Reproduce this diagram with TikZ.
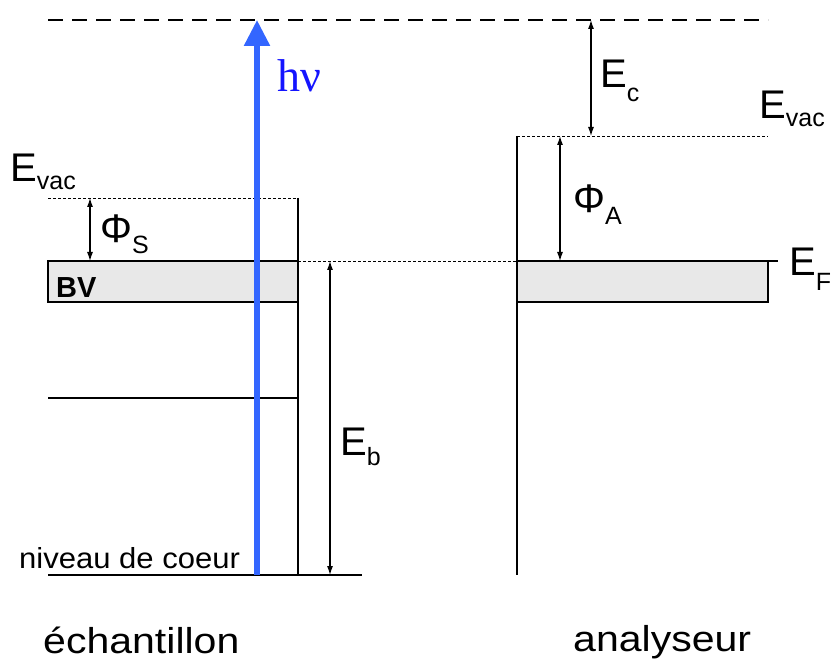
\documentclass[tikz,border=0pt]{standalone}
\usepackage{fontspec}
\setmainfont{Liberation Sans}
\newfontfamily\hvfont{Liberation Serif}
\newfontfamily\widefont[FakeStretch=1.14]{Liberation Sans}
\newfontfamily\corefont[FakeStretch=1.07]{Liberation Sans}
\usetikzlibrary{arrows.meta}
\definecolor{arrowblue}{RGB}{51,102,255}
\definecolor{textblue}{RGB}{20,20,255}
\definecolor{bandgray}{RGB}{232,232,232}
\newcommand\lbl[3][10]{#2\raisebox{-#1pt}{\fontsize{25}{28}\selectfont #3}}
\begin{document}
\begin{tikzpicture}[x=1pt,y=-1pt,
  big/.style={inner sep=0pt, anchor=base west, font=\fontsize{40}{44}\selectfont},
  smalltext/.style={inner sep=0pt, anchor=base west, text depth=0pt, font=\corefont\fontsize{29}{32}\selectfont},
  captiontext/.style={inner sep=0pt, anchor=base west, text depth=0pt, font=\widefont\fontsize{36}{40}\selectfont},
  heavy/.style={line width=2.5pt},
  light/.style={line width=1.1pt},
  dotline/.style={line width=0.8pt, dash pattern=on 3pt off 2pt},
  dim/.style={line width=1.1pt, {Latex[length=9pt,width=6pt]}-{Latex[length=9pt,width=6pt]}},
  band/.style={draw, fill=bandgray, line width=2.5pt, inner sep=0pt, outer sep=0pt, anchor=north west, minimum height=41pt},
]
\useasboundingbox (0,0) rectangle (833,660);
% coordinates
\coordinate (topL) at (48,20);
\coordinate (topR) at (768,20);
\coordinate (photonbot) at (257,575);
\coordinate (photontop) at (257,20);
\coordinate (svacL) at (48,198);
\coordinate (svacR) at (298,198);
\coordinate (sbot) at (298,575);
\coordinate (sfermi) at (298,261);
\coordinate (afermi) at (517,261);
\coordinate (afermiR) at (778,261);
\coordinate (avacL) at (517,136);
\coordinate (avacR) at (768,136);
\coordinate (abot) at (517,575);
\coordinate (lvlL) at (48,398);
\coordinate (lvlR) at (298,398);
\coordinate (coreL) at (48,575);
\coordinate (coreR) at (362,575);
\coordinate (phiSt) at (90,198);
\coordinate (phiSb) at (90,261);
\coordinate (Ebt) at (330,261);
\coordinate (Ebb) at (330,575);
\coordinate (phiAt) at (560,136);
\coordinate (phiAb) at (560,261);
\coordinate (Ect) at (591,20);
\coordinate (Ecb) at (591,136);

% top dashed level
\draw[heavy, dash pattern=on 15pt off 9pt] (topL) -- (topR);

% sample
\draw[dotline] (svacL) -- (svacR);
\node[band, minimum width=250pt] (bvS) at (48,261) {};
\node[inner sep=0pt, anchor=base west, font=\bfseries\fontsize{29}{31}\selectfont] (bvT) at (56,298) {BV};
\draw[heavy] (svacR) -- (sbot);
\draw[light] (lvlL) -- (lvlR);
\draw[light] (coreL) -- (coreR);
\draw[dotline] (sfermi) -- (afermi);

% analyser
\node[band, minimum width=251pt] (bvA) at (517,261) {};
\draw[heavy] (afermi) -- (afermiR);
\draw[heavy] (avacL) -- (abot);
\draw[dotline] (avacL) -- (avacR);

% dimension arrows
\draw[dim] (phiSt) -- (phiSb);
\draw[dim] (Ebt) -- (Ebb);
\draw[dim] (phiAt) -- (phiAb);
\draw[dim] (Ect) -- (Ecb);

% photon
\draw[line width=5.5pt, arrowblue, -{Triangle[length=26pt,width=25pt]}] (photonbot) -- (photontop);
\node[inner sep=0pt, anchor=base west, text=textblue, font=\hvfont\fontsize{46}{50}\selectfont] (hv) at (277,92) {hν};

% labels
\node[big] (EvacS) at (10,182) {\lbl[8]{E}{vac}};
\node[big] (PhiS) at (100,243) {\lbl[11]{Φ}{S}};
\node[big] (EvacA) at (759,119) {\lbl[8]{E}{vac}};
\node[big] (Ec) at (600,88) {\lbl[14]{E}{c}};
\node[big] (PhiA) at (573,213) {\lbl[12]{Φ}{A}};
\node[big] (EF) at (789,276) {\lbl[15]{E}{F}};
\node[big] (Eb) at (340,455) {\lbl[10]{E}{b}};
\node[smalltext] (core) at (19,568) {niveau de coeur};
\node[captiontext] (ech) at (43,653) {échantillon};
\node[captiontext] (ana) at (573,651) {analyseur};
\end{tikzpicture}
\end{document}
